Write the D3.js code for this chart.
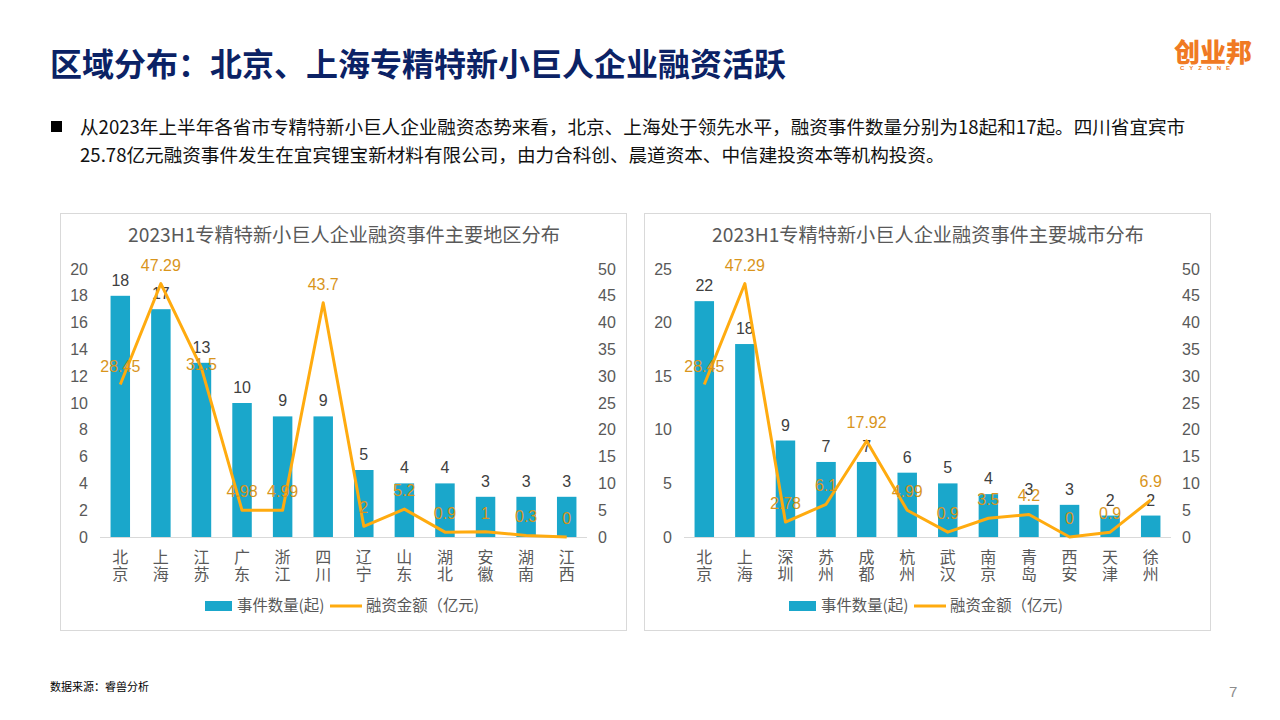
<!DOCTYPE html>
<html><head><meta charset="utf-8">
<script src="https://cdn.jsdelivr.net/npm/d3@7"></script>
<style>
body{margin:0;background:#fff;}
svg{display:block;font-family:"Liberation Sans","Noto Sans CJK SC",sans-serif;}
.cjk{font-family:"Noto Sans CJK SC","Liberation Sans",sans-serif;}
</style>
</head><body><svg id="c" width="1280" height="720"></svg>
<script>
// ---- data ----
const regionCats = ["北京","上海","江苏","广东","浙江","四川","辽宁","山东","湖北","安徽","湖南","江西"];
const regionCounts = [18,17,13,10,9,9,5,4,4,3,3,3];
const regionAmounts = [28.45,47.29,31.5,4.98,4.99,43.7,2,5.2,0.9,1,0.3,0];
const cityCats = ["北京","上海","深圳","苏州","成都","杭州","武汉","南京","青岛","西安","天津","徐州"];
const cityCounts = [22,18,9,7,7,6,5,4,3,3,2,2];
const cityAmounts = [28.45,47.29,2.78,6.1,17.92,4.99,0.9,3.5,4.2,0,0.9,6.9];
const regionLeftTicks = [0,2,4,6,8,10,12,14,16,18,20];
const cityLeftTicks = [0,5,10,15,20,25];
const rightTicks = [0,5,10,15,20,25,30,35,40,45,50];
const legendBar = "事件数量(起)";
const legendLine = "融资金额（亿元)";

const BAR = "#1aa7cb", LINE = "#ffab0f", LINELAB = "#d9951c", AX = "#595959";
const svg = d3.select("#c");

// ---- header ----
svg.append("text").attr("class","cjk").attr("x",50).attr("y",76)
  .attr("font-size",32).attr("font-weight",700).attr("fill","#0b2265")
  .text("区域分布：北京、上海专精特新小巨人企业融资活跃");
svg.append("text").attr("class","cjk").attr("x",1174).attr("y",62)
  .attr("font-size",26).attr("font-weight",900).attr("fill","#f07a23").text("创业邦");
svg.append("text").attr("x",1180).attr("y",70).attr("font-size",6).attr("font-weight",700)
  .attr("letter-spacing",5).attr("fill","#f07a23").text("CYZONE");

svg.append("rect").attr("x",51).attr("y",121).attr("width",11).attr("height",11).attr("fill","#000");
const bl = [
  "从2023年上半年各省市专精特新小巨人企业融资态势来看，北京、上海处于领先水平，融资事件数量分别为18起和17起。四川省宜宾市",
  "25.78亿元融资事件发生在宜宾锂宝新材料有限公司，由力合科创、晨道资本、中信建投资本等机构投资。"
];
bl.forEach((t,i)=>svg.append("text").attr("class","cjk").attr("x",80).attr("y",134+i*28)
  .attr("font-size",18.6).attr("fill","#111").text(t));

svg.append("text").attr("class","cjk").attr("x",50).attr("y",691).attr("font-size",11)
  .attr("fill","#000").text("数据来源：睿兽分析");
svg.append("text").attr("x",1229).attr("y",697).attr("font-size",15).attr("fill","#8c8c8c").text("7");

// ---- charts ----
function chart(ox, title, cats, counts, amounts, leftMax, leftTicks, lg) {
  svg.append("rect").attr("x",ox+0.5).attr("y",213.5).attr("width",566).attr("height",417)
    .attr("fill","#fff").attr("stroke","#d9d9d9");
  svg.append("text").attr("class","cjk").attr("x",ox+284).attr("y",242).attr("text-anchor","middle")
    .attr("font-size",19.2).attr("fill",AX).text(title);

  const x0 = ox+40, x1 = ox+527;
  const x = d3.scaleBand().domain(cats).range([x0,x1]).paddingInner(0.52).paddingOuter(0.26);
  const yL = d3.scaleLinear().domain([0,leftMax]).range([537,269]);
  const yR = d3.scaleLinear().domain([0,50]).range([537,269]);

  const gl = svg.append("g").attr("transform",`translate(${x0},0)`)
    .call(d3.axisLeft(yL).tickValues(leftTicks).tickSize(0).tickPadding(12));
  const gr = svg.append("g").attr("transform",`translate(${x1},0)`)
    .call(d3.axisRight(yR).tickValues(rightTicks).tickSize(0).tickPadding(11));
  [gl,gr].forEach(g=>{g.select(".domain").remove();
    g.selectAll("text").attr("font-size",16).attr("fill",AX)
     .attr("font-family","Liberation Sans, sans-serif");});

  svg.append("line").attr("x1",x0).attr("x2",x1).attr("y1",537.5).attr("y2",537.5)
    .attr("stroke","#d9d9d9").attr("stroke-width",1);

  svg.append("g").selectAll("rect").data(cats).join("rect")
    .attr("x",d=>x(d)).attr("width",x.bandwidth())
    .attr("y",(d,i)=>yL(counts[i])).attr("height",(d,i)=>537-yL(counts[i]))
    .attr("fill",BAR);

  // category labels stacked vertically
  const cl = svg.append("g");
  cats.forEach(c=>{
    const cx = x(c)+x.bandwidth()/2;
    [...c].forEach((ch,k)=>cl.append("text").attr("class","cjk").attr("x",cx).attr("y",563+k*17)
      .attr("text-anchor","middle").attr("font-size",16).attr("fill",AX).text(ch));
  });

  // bar labels
  const barLabY = (i)=>yL(counts[i])-10;
  svg.append("g").selectAll("text").data(cats).join("text")
    .attr("x",d=>x(d)+x.bandwidth()/2).attr("y",(d,i)=>barLabY(i))
    .attr("text-anchor","middle").attr("font-size",16).attr("fill","#404040")
    .text((d,i)=>counts[i]);

  // line
  const line = d3.line().x((d,i)=>x(cats[i])+x.bandwidth()/2).y(d=>yR(d));
  svg.append("path").datum(amounts).attr("d",line).attr("fill","none")
    .attr("stroke",LINE).attr("stroke-width",3).attr("stroke-linejoin","round");

  // line labels above the point; nudged below when it would sit right on the bar label
  const lineLabY = (d,i)=>{
    const y = yR(d)-13;
    return Math.abs(y-barLabY(i))<4 ? y+15 : y;
  };
  svg.append("g").selectAll("text").data(amounts).join("text")
    .attr("x",(d,i)=>x(cats[i])+x.bandwidth()/2).attr("y",lineLabY)
    .attr("text-anchor","middle").attr("font-size",16).attr("fill",LINELAB)
    .text(d=>String(d));

  // legend
  svg.append("rect").attr("x",ox+lg).attr("y",601).attr("width",27).attr("height",10).attr("fill",BAR);
  svg.append("text").attr("class","cjk").attr("x",ox+lg+32).attr("y",611).attr("font-size",15.4)
    .attr("fill",AX).text(legendBar);
  svg.append("line").attr("x1",ox+lg+125).attr("x2",ox+lg+157).attr("y1",606).attr("y2",606)
    .attr("stroke",LINE).attr("stroke-width",3);
  svg.append("text").attr("class","cjk").attr("x",ox+lg+161).attr("y",611).attr("font-size",15.4)
    .attr("fill",AX).text(legendLine);
}

chart(60, "2023H1专精特新小巨人企业融资事件主要地区分布", regionCats, regionCounts, regionAmounts, 20, regionLeftTicks, 145);
chart(644, "2023H1专精特新小巨人企业融资事件主要城市分布", cityCats, cityCounts, cityAmounts, 25, cityLeftTicks, 145);
</script>
</body></html>
